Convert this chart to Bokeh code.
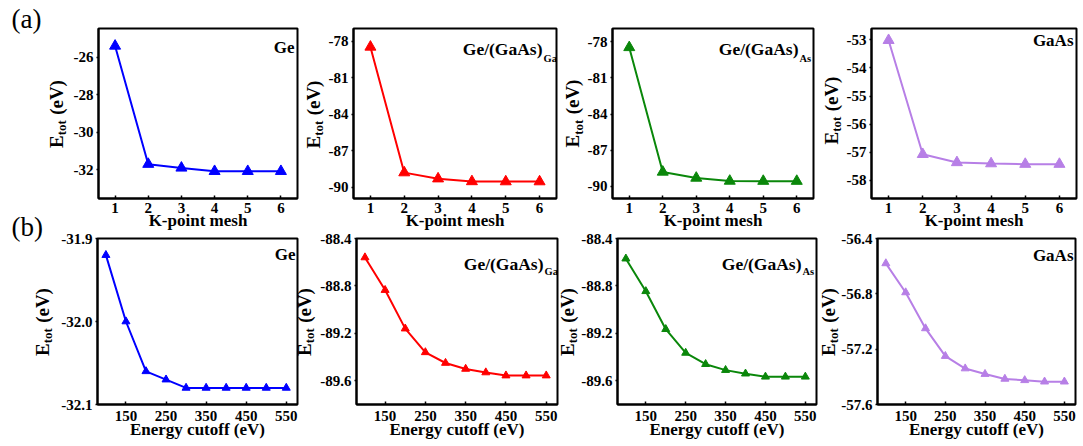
from bokeh.plotting import figure
from bokeh.layouts import row, column
from bokeh.models import Range1d, FixedTicker, NumeralTickFormatter, Label
from bokeh.embed import file_html
from bokeh.resources import INLINE
import math

# ---- data -------------------------------------------------------------
kpoints = [1, 2, 3, 4, 5, 6]
ecut = [100, 150, 200, 250, 300, 350, 400, 450, 500, 550]

k_ge = [-25.4, -31.7, -31.9, -32.08, -32.08, -32.08]
k_ge_ga = [-78.45, -88.8, -89.3, -89.53, -89.54, -89.54]
k_ge_as = [-78.47, -88.8, -89.3, -89.55, -89.56, -89.56]
k_gaas = [-53.02, -57.07, -57.36, -57.40, -57.42, -57.42]

e_ge = [-31.92, -32.0, -32.06, -32.07, -32.08, -32.08, -32.08, -32.08, -32.08, -32.08]
e_ge_ga = [-88.56, -88.835, -89.16, -89.36, -89.45, -89.50, -89.53, -89.556, -89.556, -89.556]
e_ge_as = [-88.57, -88.845, -89.165, -89.365, -89.46, -89.51, -89.54, -89.566, -89.566, -89.566]
e_gaas = [-56.58, -56.79, -57.05, -57.25, -57.34, -57.38, -57.415, -57.425, -57.435, -57.435]

k_ticks_ge = [-32, -30, -28, -26]
k_ticks_ge_x = [-90, -87, -84, -81, -78]
k_ticks_gaas = [-58, -57, -56, -55, -54, -53]
e_ticks_ge = [-32.1, -32.0, -31.9]
e_ticks_ge_x = [-89.6, -89.2, -88.8, -88.4]
e_ticks_gaas = [-57.6, -57.2, -56.8, -56.4]
e_xticks = [150, 250, 350, 450, 550]

BLUE = "#0000ff"
RED = "#ff0000"
GREEN = "#0a870a"
PURPLE = "#b77fe6"

FONT = "Liberation Serif"

TOP_H, TOP_T, TOP_B = 249, 28, 51   # k-point row: height, top / bottom borders
BOT_H, BOT_T, BOT_B = 217, 9, 42    # cutoff row
OVERLAP = 20     # cutoff row slides up under the k-point axis labels
PAD = 15         # side-text strips reach this far under the next panel
BACK = 9         # side-text strips also reach back under the previous panel
LEFT = 28        # where the panel grid starts, right of the panel letters


def panel(width, height, left, top, bottom, xr, yr, xticks, yticks,
          yfmt, xlabel, tick_standoff, label_standoff):
    p = figure(width=width, height=height, x_range=Range1d(*xr), y_range=Range1d(*yr),
               output_backend="svg", toolbar_location=None,
               min_border_left=left, min_border_right=2,
               min_border_top=top, min_border_bottom=bottom,
               margin=(0, 0, 0, -PAD))
    p.title.visible = False
    p.grid.visible = False
    p.outline_line_color = "black"
    p.outline_line_width = 2
    p.background_fill_color = "white"
    p.border_fill_color = None
    for ax in (p.xaxis[0], p.yaxis[0]):
        ax.axis_line_color = "black"
        ax.axis_line_width = 2
        ax.major_tick_line_color = "black"
        ax.major_tick_line_width = 1.5
        ax.minor_tick_line_color = None
        ax.major_label_text_font = FONT
        ax.major_label_text_font_style = "bold"
        ax.major_label_text_font_size = "15px"
        ax.major_label_text_color = "black"
    p.xaxis.ticker = FixedTicker(ticks=xticks)
    p.yaxis.ticker = FixedTicker(ticks=yticks)
    p.yaxis.formatter = NumeralTickFormatter(format=yfmt)
    p.xaxis.major_tick_in = 3
    p.xaxis.major_tick_out = 0
    p.yaxis.major_tick_in = 0
    p.yaxis.major_tick_out = 2
    p.xaxis.major_label_standoff = tick_standoff
    p.yaxis.major_label_standoff = 3
    p.xaxis.axis_label = xlabel
    p.xaxis.axis_label_text_font = FONT
    p.xaxis.axis_label_text_font_style = "bold"
    p.xaxis.axis_label_text_font_size = "17px"
    p.xaxis.axis_label_text_color = "black"
    p.xaxis.axis_label_standoff = label_standoff
    return p


def strip(width, height, top=0, bottom=0, back=0):
    # bare drawing area for side texts; y is measured upward from the
    # figure's bottom edge in pixels, x from the strip's nominal left edge
    s = figure(width=width + back, height=height, x_range=Range1d(-back, width),
               y_range=Range1d(bottom, height - top), output_backend="svg",
               toolbar_location=None, x_axis_type=None, y_axis_type=None,
               min_border_left=0, min_border_right=0,
               min_border_top=top, min_border_bottom=bottom,
               margin=(0, 0, 0, -back) if back else None)
    s.title.visible = False
    s.grid.visible = False
    s.outline_line_color = None
    s.background_fill_color = None
    s.border_fill_color = None
    return s


def etot_label(s, xb, yc_screen):
    # vertical "E_tot (eV)": text baseline at xb, centred on yc_screen (from top)
    # pieces: text, font size, advance, x of the piece centre relative to xb
    pieces = [("E", 19, 12.67, -6.4), ("tot", 13, 15.16, -0.9),
              (None, 0, 5.25, 0), ("(eV)", 19, 34.8, -6.4)]
    total = sum(p[2] for p in pieces)
    pos = (s.height - yc_screen) - total / 2
    for txt, fs, adv, dx in pieces:
        if txt:
            s.add_layout(Label(x=xb + dx, y=pos + adv / 2, text=txt, angle=math.pi / 2,
                               text_align="center", text_baseline="middle",
                               text_font=FONT, text_font_style="bold",
                               text_font_size=f"{fs}px", text_color="black"))
        pos += adv


def name(p, main, dx, dy, sub=None, sub_dx=0, sub_dy=0, size="17px"):
    x1, y1 = p.x_range.end, p.y_range.end
    p.add_layout(Label(x=x1, y=y1, x_offset=dx, y_offset=dy, text=main,
                       text_align="right", text_baseline="alphabetic",
                       text_font=FONT, text_font_style="bold",
                       text_font_size=size, text_color="black"))
    if sub:
        p.add_layout(Label(x=x1, y=y1, x_offset=sub_dx, y_offset=sub_dy, text=sub,
                           text_align="left", text_baseline="alphabetic",
                           text_font=FONT, text_font_style="bold",
                           text_font_size="10.5px", text_color="black"))


def series(p, x, y, color, size):
    p.line(x, y, line_color=color, line_width=2)
    p.scatter(x, y, marker="triangle", size=size, fill_color=color, line_color=color)


KX = (0.5, 6.5)
EX = (79, 578)
TS_TOP, LS_TOP = 4, -5      # k-point row: tick-label / axis-label standoffs
TS_BOT, LS_BOT = 6, -4      # cutoff row

# ---- (a) k-point convergence ----
a1 = panel(229, TOP_H, 24, TOP_T, TOP_B, KX, (-33.53, -24.47), kpoints, k_ticks_ge, "0",
           "K-point mesh", TS_TOP, LS_TOP)
series(a1, kpoints, k_ge, BLUE, 11)
name(a1, "Ge", -3, -19)

a2 = panel(234, TOP_H, 29, TOP_T, TOP_B, KX, (-90.93, -76.93), kpoints, k_ticks_ge_x, "0",
           "K-point mesh", TS_TOP, LS_TOP)
series(a2, kpoints, k_ge_ga, RED, 11)
name(a2, "Ge/(GaAs)", -14, -20, "Ga", -13, -30, size="17.5px")

a3 = panel(232, TOP_H, 29, TOP_T, TOP_B, KX, (-91.0, -76.9), kpoints, k_ticks_ge_x, "0",
           "K-point mesh", TS_TOP, LS_TOP)
series(a3, kpoints, k_ge_as, GREEN, 11)
name(a3, "Ge/(GaAs)", -15, -20, "As", -14, -30, size="17.5px")

a4 = panel(236, TOP_H, 29, TOP_T, TOP_B, KX, (-58.64, -52.6), kpoints, k_ticks_gaas, "0",
           "K-point mesh", TS_TOP, LS_TOP)
series(a4, kpoints, k_gaas, PURPLE, 11)
name(a4, "GaAs", -3, -12)

sa1 = strip(70 - LEFT + PAD, TOP_H, TOP_T, TOP_B)
sa2 = strip(25 + PAD, TOP_H, TOP_T, TOP_B, BACK)
sa3 = strip(25 + PAD, TOP_H, TOP_T, TOP_B, BACK)
sa4 = strip(27 + PAD, TOP_H, TOP_T, TOP_B, BACK)
etot_label(sa1, 62 - LEFT, 113.5)
etot_label(sa2, 20, 114)
etot_label(sa3, 20.5, 113)
etot_label(sa4, 22, 110)

# ---- (b) energy-cutoff convergence ----
b1 = panel(251, BOT_H, 49, BOT_T, BOT_B, EX, (-32.1, -31.9), e_xticks, e_ticks_ge, "0.0",
           "Energy cutoff (eV)", TS_BOT, LS_BOT)
series(b1, ecut, e_ge, BLUE, 8)
name(b1, "Ge", -2, -16)

b2 = panel(242, BOT_H, 39, BOT_T, BOT_B, EX, (-89.8, -88.4), e_xticks, e_ticks_ge_x, "0.0",
           "Energy cutoff (eV)", TS_BOT, LS_BOT)
series(b2, ecut, e_ge_ga, RED, 8)
name(b2, "Ge/(GaAs)", -14, -25, "Ga", -13, -33, size="17.5px")

b3 = panel(240, BOT_H, 38, BOT_T, BOT_B, EX, (-89.8, -88.4), e_xticks, e_ticks_ge_x, "0.0",
           "Energy cutoff (eV)", TS_BOT, LS_BOT)
series(b3, ecut, e_ge_as, GREEN, 8)
name(b3, "Ge/(GaAs)", -15, -25, "As", -14, -33, size="17.5px")

b4 = panel(239, BOT_H, 38, BOT_T, BOT_B, EX, (-57.6, -56.4), e_xticks, e_ticks_gaas, "0.0",
           "Energy cutoff (eV)", TS_BOT, LS_BOT)
series(b4, ecut, e_gaas, PURPLE, 8)
name(b4, "GaAs", -2, -17)

sb1 = strip(48 - LEFT + PAD, BOT_H, BOT_T, BOT_B)
sb2 = strip(18 + PAD, BOT_H, BOT_T, BOT_B, BACK)
sb3 = strip(19 + PAD, BOT_H, BOT_T, BOT_B, BACK)
sb4 = strip(20 + PAD, BOT_H, BOT_T, BOT_B, BACK)
etot_label(sb1, 48 - LEFT, 92.5)
etot_label(sb2, 11, 92.5)
etot_label(sb3, 14, 92.5)
etot_label(sb4, 16, 92.5)

# ---- panel letters ----
full_h = TOP_H + BOT_H - OVERLAP
letters = strip(LEFT + PAD, full_h)
for txt, yy in (("(a)", 18), ("(b)", 226)):
    letters.add_layout(Label(x=11, y=full_h - yy, text=txt, text_align="left",
                             text_baseline="middle", text_font=FONT,
                             text_font_size="27px", text_color="black"))

top_row = row(sa1, a1, sa2, a2, sa3, a3, sa4, a4)
bottom_row = row(sb1, b1, sb2, b2, sb3, b3, sb4, b4, margin=(-OVERLAP, 0, 0, 0))
layout = row(letters, column(top_row, bottom_row, margin=(0, 0, 0, -PAD)))

with open("out.html", "w") as f:
    f.write(file_html(layout, INLINE))
